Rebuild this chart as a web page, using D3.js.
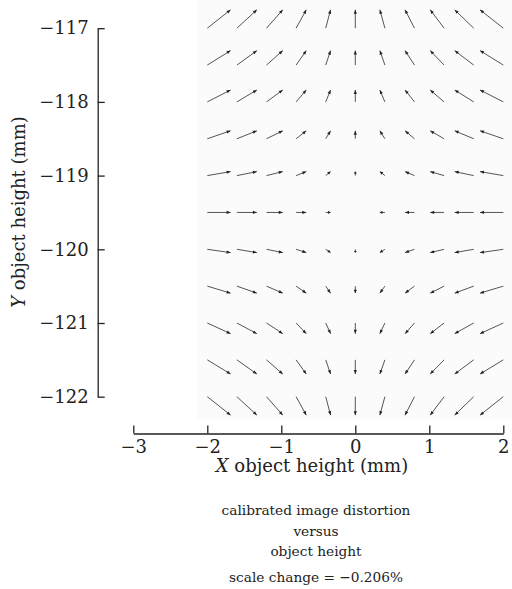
<!DOCTYPE html>
<html lang="en">
<head>
	<meta charset="UTF-8"/>
	<title>Calibrated image distortion vs object height</title>
	<script src="https://d3js.org/d3.v7.min.js"></script>
	<style>
		body { margin: 0; background: #fff; }
		text { font-family: "DejaVu Serif", "Liberation Serif", serif; fill: #222; }
		.axis path, .axis line { stroke: #222; stroke-width: 1.3; }
		.vec { stroke: #555; stroke-width: 1; }
		.head { fill: #222; }
	</style>
</head>
<body>
	<div id="chart"></div>
	<script>
	var w = 512;
	var h = 589;

	// grid of object points (tails of the arrows)
	var gridX = [-2, -1.6, -1.2, -0.8, -0.4, 0, 0.4, 0.8, 1.2, 1.6, 2];
	var gridY = [-117, -117.5, -118, -118.5, -119, -119.5, -120, -120.5, -121, -121.5, -122];
	// drawn distortion per column (x part) and per row (y part), in axis mm
	var distX = [0.315, 0.27, 0.22, 0.138, 0.066, 0, -0.068, -0.128, -0.188, -0.257, -0.315];
	var distY = [0.25, 0.196, 0.162, 0.108, 0.054, 0, -0.045, -0.095, -0.145, -0.193, -0.25];

	var xTicks = [-3, -2, -1, 0, 1, 2];
	var yTicks = [-117, -118, -119, -120, -121, -122];

	var svg = d3.select("#chart")
				.append("svg")
				.attr("width", w)
				.attr("height", h);

	var xScale = d3.scaleLinear()
					.domain([-3, 2])
					.range([133.3, 503.3]);
	var yScale = d3.scaleLinear()
					.domain([-122, -117])
					.range([396.7, 28.2]);

	// faint backdrop behind the vector field
	svg.append("rect")
		.attr("x", xScale(-2.14))
		.attr("y", 0)
		.attr("width", w - xScale(-2.14))
		.attr("height", yScale(-122.32))
		.attr("fill", "#fbfbfb");

	var arrows = [];
	gridY.forEach(function(gy, j){
		gridX.forEach(function(gx, i){
			if (distX[i] === 0 && distY[j] === 0) return;
			arrows.push({x: gx, y: gy, u: distX[i], v: distY[j]});
		});
	});

	var field = svg.append("g");
	field.selectAll("line")
		.data(arrows)
		.enter()
		.append("line")
		.attr("class", "vec")
		.attr("x1", function(d){ return xScale(d.x); })
		.attr("y1", function(d){ return yScale(d.y); })
		.attr("x2", function(d){ return xScale(d.x + d.u); })
		.attr("y2", function(d){ return yScale(d.y + d.v); });

	field.selectAll("path")
		.data(arrows)
		.enter()
		.append("path")
		.attr("class", "head")
		.attr("d", function(d){
			var x0 = xScale(d.x), y0 = yScale(d.y);
			var x1 = xScale(d.x + d.u), y1 = yScale(d.y + d.v);
			var len = Math.sqrt((x1-x0)*(x1-x0) + (y1-y0)*(y1-y0));
			var ux = (x1-x0)/len, uy = (y1-y0)/len;
			var hl = Math.min(4, len*0.5), hw = 1.6;
			var bx = x1 - ux*hl, by = y1 - uy*hl;
			return "M" + x1 + "," + y1 +
				"L" + (bx - uy*hw) + "," + (by + ux*hw) +
				"L" + (bx + uy*hw) + "," + (by - ux*hw) + "Z";
		});

	var xAxis = d3.axisBottom(xScale)
					.tickValues(xTicks)
					.tickSize(-8)
					.tickSizeOuter(0)
					.tickFormat(d3.format("d"));
	var yAxis = d3.axisLeft(yScale)
					.tickValues(yTicks)
					.tickSize(-7)
					.tickSizeOuter(0)
					.tickFormat(d3.format("d"));

	var gx = svg.append("g")
		.attr("class", "axis")
		.attr("transform", "translate(0,433.5)")
		.call(xAxis);
	gx.selectAll("text")
		.attr("y", 19)
		.attr("dy", 0)
		.style("font-size", "18px");

	var gy = svg.append("g")
		.attr("class", "axis")
		.attr("transform", "translate(97.7,0)")
		.call(yAxis);
	gy.selectAll("text")
		.attr("x", -9)
		.style("font-size", "18px");

	var xt = svg.append("text")
		.attr("x", 312)
		.attr("y", 472)
		.attr("text-anchor", "middle")
		.style("font-size", "18px");
	xt.append("tspan").style("font-style", "italic").text("X");
	xt.append("tspan").text(" object height (mm)");

	var yt = svg.append("text")
		.attr("transform", "translate(25,212) rotate(-90)")
		.attr("text-anchor", "middle")
		.style("font-size", "18px");
	yt.append("tspan").style("font-style", "italic").text("Y");
	yt.append("tspan").text(" object height (mm)");

	var caption = ["calibrated image distortion", "versus", "object height", "scale change = \u22120.206%"];
	var capY = [515, 536, 556, 582];
	svg.selectAll("text.cap")
		.data(caption)
		.enter()
		.append("text")
		.attr("class", "cap")
		.attr("x", 316)
		.attr("y", function(d, i){ return capY[i]; })
		.attr("text-anchor", "middle")
		.style("font-size", "13.7px")
		.text(function(d){ return d; });
	</script>
</body>
</html>
